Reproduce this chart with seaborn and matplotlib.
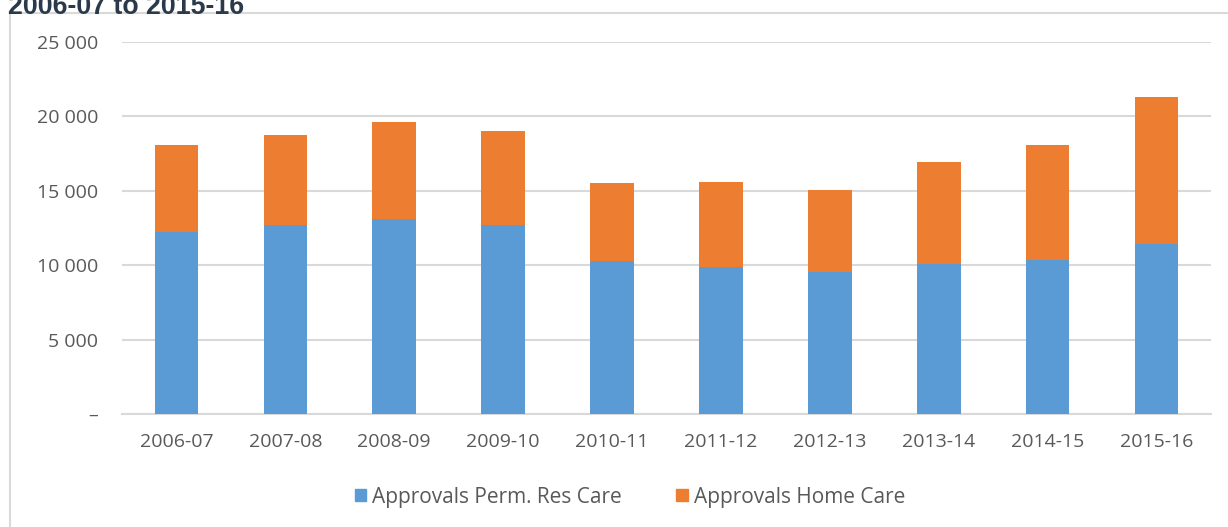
import seaborn as sns
import matplotlib.pyplot as plt
import pandas as pd
from matplotlib.patches import Patch
from matplotlib.lines import Line2D

# data
years = ["2006-07", "2007-08", "2008-09", "2009-10", "2010-11",
         "2011-12", "2012-13", "2013-14", "2014-15", "2015-16"]
perm_res_care = [12200, 12680, 13080, 12680, 10250, 9870, 9540, 10070, 10350, 11420]
home_care = [5900, 6100, 6530, 6370, 5270, 5700, 5490, 6840, 7750, 9880]

yticks = [0, 5000, 10000, 15000, 20000, 25000]
ytick_labels = ["–", "5 000", "10 000", "15 000", "20 000", "25 000"]

blue = "#5b9bd5"
orange = "#ed7d31"
grid = "#d9d9d9"
txt = "#595959"

df = pd.DataFrame({"year": years, "perm": perm_res_care, "home": home_care})
df["total"] = df["perm"] + df["home"]

sns.set_theme(style="white")
plt.rcParams["font.family"] = ["Open Sans", "DejaVu Sans"]

fig = plt.figure(figsize=(12.28, 5.27), dpi=100)
ax = fig.add_axes([122 / 1228, 1 - 414 / 527, 1089 / 1228, 372 / 527])

# stacked bars: total (orange) behind, perm res care (blue) in front
sns.barplot(data=df, x="year", y="total", color=orange, saturation=1,
            width=0.4, linewidth=0, ax=ax, zorder=3)
sns.barplot(data=df, x="year", y="perm", color=blue, saturation=1,
            width=0.4, linewidth=0, ax=ax, zorder=4)

ax.set_ylim(0, 25000)
ax.set_yticks(yticks)
ax.set_yticklabels(ytick_labels)
ax.set_xlabel("")
ax.set_ylabel("")
ax.yaxis.grid(True, color=grid, lw=1.5, zorder=0)
ax.set_axisbelow(True)
for s in ["top", "right", "left"]:
    ax.spines[s].set_visible(False)
ax.spines["bottom"].set_color(grid)
ax.spines["bottom"].set_linewidth(1.5)
ax.tick_params(axis="both", length=0, labelsize=14, colors=txt)
ax.tick_params(axis="y", pad=17)
ax.tick_params(axis="x", pad=14)

# outer frame (left and top edges visible)
fig.add_artist(Line2D([10 / 1228, 10 / 1228], [0, 1 - 12.5 / 527],
                      color=grid, lw=1.5, transform=fig.transFigure))
fig.add_artist(Line2D([10 / 1228, 1], [1 - 12.5 / 527, 1 - 12.5 / 527],
                      color=grid, lw=1.5, transform=fig.transFigure))

# title (cut off at top in the reference)
fig.text(8 / 1228, 1 - 14 / 527, "2006-07 to 2015-16", fontsize=19.3,
         fontweight="bold", color="#2b3a4a", va="baseline", ha="left",
         family=["Liberation Sans", "DejaVu Sans"])

handles = [Patch(color=blue, label="Approvals Perm. Res Care"),
           Patch(color=orange, label="Approvals Home Care")]
leg = fig.legend(handles=handles, loc="center", ncol=2, frameon=False,
                 bbox_to_anchor=(630 / 1228, 1 - 497 / 527), fontsize=15,
                 handlelength=0.55, handleheight=0.55, handletextpad=0.3,
                 columnspacing=2.6)
for t in leg.get_texts():
    t.set_color(txt)

plt.savefig("out.png", dpi=100)
